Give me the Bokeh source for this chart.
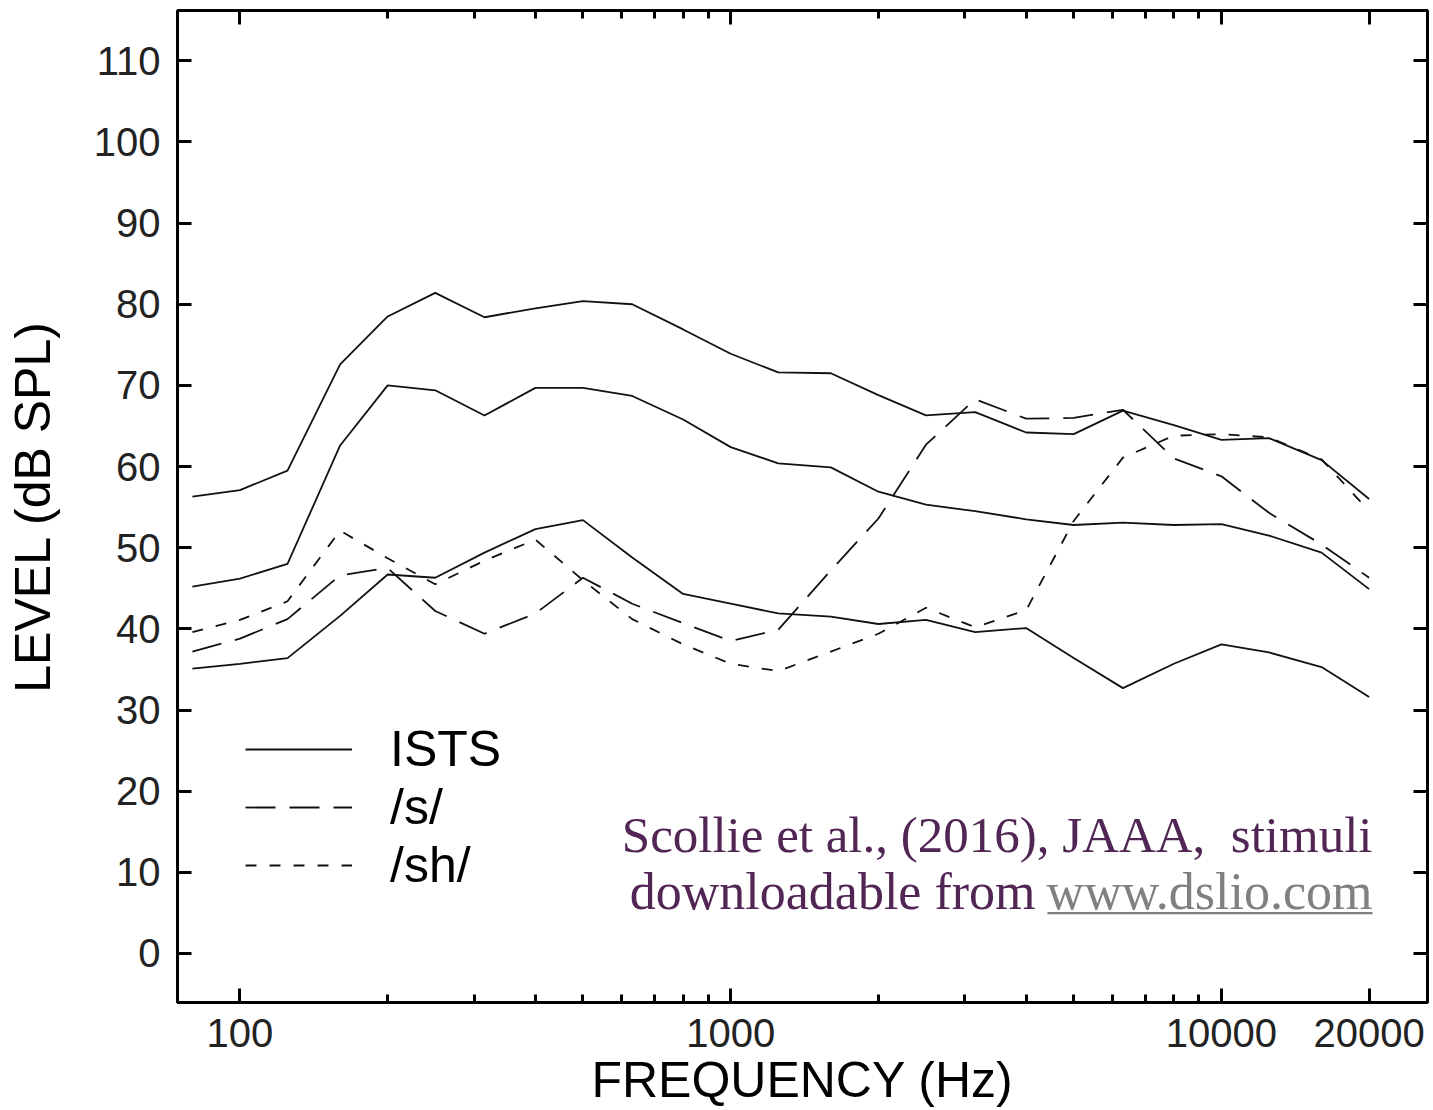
from bokeh.plotting import figure
from bokeh.models import (Range1d, FixedTicker, LogAxis, LinearAxis, Legend, LegendItem,
                          Label, BoxAnnotation, PrintfTickFormatter, CustomJSTickFormatter)
from bokeh.embed import file_html
from bokeh.resources import INLINE

# 1/3-octave centre frequencies (Hz)
freqs = [80, 100, 125, 160, 200, 250, 315, 400, 500, 630, 800, 1000, 1250, 1600,
         2000, 2500, 3150, 4000, 5000, 6300, 8000, 10000, 12500, 16000, 20000]

# ISTS (solid): upper, middle and lower curves (dB SPL)
ists_high = [56.3, 57.1, 59.5, 72.6, 78.5, 81.4, 78.4, 79.5, 80.4, 80.0, 76.9, 73.9, 71.6, 71.5,
             68.8, 66.3, 66.7, 64.2, 64.0, 66.9, 65.1, 63.3, 63.5, 60.8, 56.0]
ists_mid = [45.2, 46.2, 48.0, 62.6, 70.0, 69.4, 66.3, 69.7, 69.7, 68.7, 65.8, 62.4, 60.4, 59.9,
            56.9, 55.3, 54.5, 53.5, 52.8, 53.1, 52.8, 52.9, 51.5, 49.4, 44.9]
ists_low = [35.1, 35.7, 36.4, 41.6, 46.7, 46.3, 49.4, 52.3, 53.4, 48.8, 44.3, 43.1, 41.9, 41.5,
            40.6, 41.1, 39.6, 40.1, 36.4, 32.7, 35.7, 38.1, 37.1, 35.3, 31.6]
# /s/ (long dashes) and /sh/ (short dashes)
s_level = [37.2, 38.8, 41.2, 46.6, 47.5, 42.2, 39.4, 41.9, 46.3, 43.1, 40.7, 38.5, 39.9, 47.2,
           53.6, 62.7, 68.3, 65.9, 66.0, 67.0, 61.0, 58.8, 54.3, 50.4, 46.3]
sh_level = [39.6, 41.1, 43.4, 52.1, 48.7, 45.5, 48.4, 51.0, 46.0, 41.2, 38.1, 35.7, 34.8, 37.2,
            39.4, 42.6, 40.2, 42.3, 53.3, 61.1, 63.8, 64.0, 63.6, 60.9, 54.5]

x_major = [100, 1000, 10000, 20000]
x_minor = [200, 300, 400, 500, 600, 700, 800, 900,
           2000, 3000, 4000, 5000, 6000, 7000, 8000, 9000]
y_ticks = [0, 10, 20, 30, 40, 50, 60, 70, 80, 90, 100, 110]

legend_labels = ["ISTS", "/s/", "/sh/"]
x_title = "FREQUENCY (Hz)"
y_title = "LEVEL (dB SPL)"
note_line1 = "Scollie et al., (2016), JAAA,\u00a0 stimuli"
note_line2 = "downloadable from"
note_link = "www.dslio.com"

TICK_FONT = "Liberation Sans"
TITLE_FONT = "Liberation Sans"

p = figure(width=1433, height=1110, x_axis_type="log",
           x_range=Range1d(74.6, 26300), y_range=Range1d(-6.04, 116.2),
           output_backend="svg", toolbar_location=None,
           min_border_left=177, min_border_right=6, min_border_top=10, min_border_bottom=108)
p.background_fill_color = "white"
p.border_fill_color = "white"
p.outline_line_color = "black"
p.outline_line_width = 3
p.grid.visible = False

xt = FixedTicker(ticks=x_major, minor_ticks=x_minor)
yt = FixedTicker(ticks=y_ticks)


def style_axis(ax, labels=True):
    ax.axis_line_color = None
    ax.major_tick_in = 14
    ax.major_tick_out = 0
    ax.minor_tick_in = 8
    ax.minor_tick_out = 0
    ax.major_tick_line_width = 3
    ax.minor_tick_line_width = 3
    ax.major_tick_line_color = "black"
    ax.minor_tick_line_color = "black"
    if labels:
        ax.major_label_text_font = TICK_FONT
        ax.major_label_text_font_size = "40px"
        ax.major_label_text_color = "#222222"
        ax.axis_label_text_font = TITLE_FONT
        ax.axis_label_text_font_size = "50px"
        ax.axis_label_text_font_style = "normal"
        ax.axis_label_text_color = "#000000"
    else:
        ax.formatter = CustomJSTickFormatter(code="return ''")
        ax.major_label_text_font_size = "1px"
        ax.major_label_standoff = 0


xa = p.xaxis[0]
xa.ticker = xt
xa.formatter = PrintfTickFormatter(format="%d")
xa.axis_label = x_title
style_axis(xa)
xa.major_label_standoff = 16
xa.axis_label_standoff = 2

ya = p.yaxis[0]
ya.ticker = yt
ya.axis_label = y_title
style_axis(ya)
ya.major_label_standoff = 17
ya.axis_label_standoff = 30

top_ax = LogAxis(ticker=FixedTicker(ticks=x_major, minor_ticks=x_minor))
style_axis(top_ax, labels=False)
p.add_layout(top_ax, "above")

right_ax = LinearAxis(ticker=FixedTicker(ticks=y_ticks))
style_axis(right_ax, labels=False)
p.add_layout(right_ax, "right")

lw = 1.8
col = "#111111"
r_high = p.line(freqs, ists_high, line_color=col, line_width=lw)
r_mid = p.line(freqs, ists_mid, line_color=col, line_width=lw)
r_low = p.line(freqs, ists_low, line_color=col, line_width=lw)
r_s = p.line(freqs, s_level, line_color=col, line_width=lw, line_dash="30 14")
r_sh = p.line(freqs, sh_level, line_color=col, line_width=lw, line_dash="11 13")

legend = Legend(items=[LegendItem(label=legend_labels[0], renderers=[r_high]),
                       LegendItem(label=legend_labels[1], renderers=[r_s]),
                       LegendItem(label=legend_labels[2], renderers=[r_sh])],
                location=(68, 108))
legend.glyph_width = 107
legend.glyph_height = 56
legend.label_height = 56
legend.spacing = 0
legend.padding = 0
legend.margin = 0
legend.label_standoff = 38
legend.label_text_font = TITLE_FONT
legend.label_text_font_size = "50px"
legend.label_text_color = "#000000"
legend.label_text_baseline = "middle"
legend.border_line_color = None
legend.background_fill_alpha = 0
p.add_layout(legend)

purple = "#512654"
p.add_layout(Label(x=20320, y=14.64, text=note_line1, text_align="right",
                   text_baseline="alphabetic", text_font="Liberation Serif",
                   text_font_size="51px", text_color=purple))
p.add_layout(Label(x=4180, y=7.61, text=note_line2, text_align="right",
                   text_baseline="alphabetic", text_font="Liberation Serif",
                   text_font_size="52px", text_color=purple))
p.add_layout(Label(x=20320, y=7.61, text=note_link, text_align="right",
                   text_baseline="alphabetic", text_font="Liberation Serif",
                   text_font_size="52px", text_color="#808080"))
p.add_layout(BoxAnnotation(left=4420, right=20320, bottom=4.85, top=5.1,
                           fill_color="#808080", fill_alpha=1, line_color=None))

open("out.html", "w").write(file_html(p, INLINE))
